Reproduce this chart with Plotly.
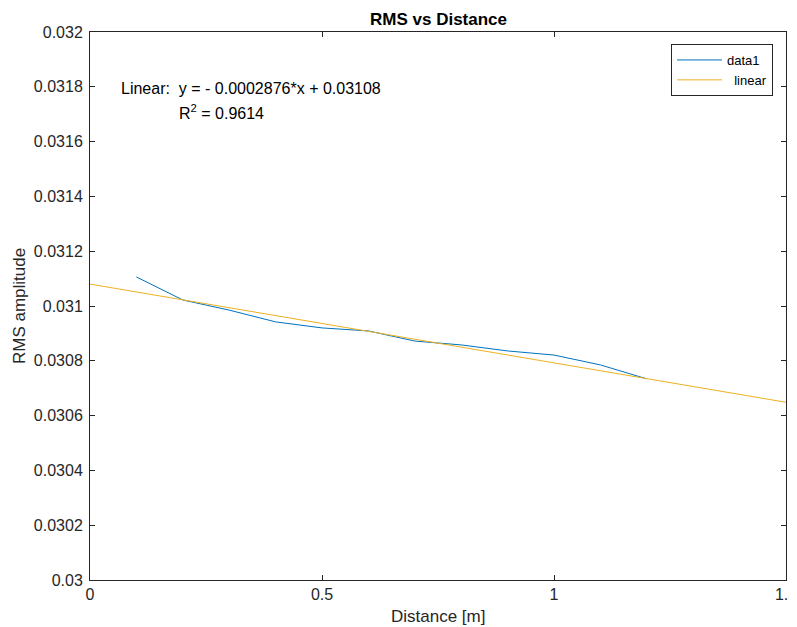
import plotly.graph_objects as go

distance = [0.1, 0.2, 0.3, 0.4, 0.5, 0.6, 0.7, 0.8, 0.9, 1.0, 1.1, 1.2]
rms = [0.031106, 0.031022, 0.030985, 0.030942, 0.030920, 0.030909,
       0.030872, 0.030858, 0.030836, 0.030821, 0.030785, 0.030734]

fit_slope = -0.0002876
fit_intercept = 0.03108
fit_x = [0.0, 1.5]
fit_y = [fit_slope * x + fit_intercept for x in fit_x]

x_ticks = [0, 0.5, 1, 1.5]
x_ticktext = ["0", "0.5", "1", "1.5"]
y_ticks = [0.030, 0.0302, 0.0304, 0.0306, 0.0308, 0.031, 0.0312, 0.0314, 0.0316, 0.0318, 0.032]
y_ticktext = ["0.03", "0.0302", "0.0304", "0.0306", "0.0308", "0.031",
              "0.0312", "0.0314", "0.0316", "0.0318", "0.032"]

FONT = "Liberation Sans, Arial, Helvetica, sans-serif"
AX = "#262626"

# page body has an 8px margin; figure sized so screen plot area is x 90-786, y 32-580
W, H = 797, 619
L, T = 82, 24
R = W - (786 - 8)
B = H - (580 - 8)
PW, PH = W - L - R, H - T - B


def px(sx):
    return (sx - 90) / PW


def py(sy):
    return (580 - sy) / PH


fig = go.Figure()
fig.add_trace(go.Scatter(x=distance, y=rms, mode="lines", name="data1",
                         line=dict(color="#0072BD", width=1)))
fig.add_trace(go.Scatter(x=fit_x, y=fit_y, mode="lines", name="  linear",
                         line=dict(color="#EDB120", width=1)))

axis_common = dict(showgrid=False, zeroline=False, showline=True, linecolor=AX,
                   linewidth=1, mirror="ticks", ticks="inside", ticklen=5,
                   tickcolor=AX, automargin=False, ticklabeloverflow="allow",
                   tickfont=dict(family=FONT, size=16, color=AX))

fig.update_layout(
    width=W, height=H,
    margin=dict(l=L, r=R, t=T, b=B, autoexpand=False),
    paper_bgcolor="white", plot_bgcolor="white",
    xaxis=dict(range=[0, 1.5], tickvals=x_ticks, ticktext=x_ticktext, **axis_common),
    yaxis=dict(range=[0.030, 0.032], tickvals=y_ticks, ticktext=y_ticktext,
               ticklabelstandoff=3, **axis_common),
    legend=dict(x=px(773), y=py(44), xanchor="right", yanchor="top",
                bgcolor="white", bordercolor=AX, borderwidth=1,
                font=dict(family=FONT, size=13, color="black"),
                itemwidth=45, tracegroupgap=0),
    showlegend=True,
)

# title
fig.add_annotation(xref="paper", yref="paper", x=0.5, y=py(19.5),
                   xanchor="center", yanchor="middle", showarrow=False,
                   text="<b>RMS vs Distance</b>", font=dict(family=FONT, size=17, color="black"))
# axis titles
fig.add_annotation(xref="paper", yref="paper", x=0.5, y=py(617),
                   xanchor="center", yanchor="middle", showarrow=False,
                   text="Distance [m]", font=dict(family=FONT, size=17, color=AX))
fig.add_annotation(xref="paper", yref="paper", x=px(19), y=0.5,
                   xanchor="center", yanchor="middle", showarrow=False, textangle=-90,
                   text="RMS amplitude", font=dict(family=FONT, size=17, color=AX))

fig.add_annotation(xref="paper", yref="paper", x=px(119), y=py(89),
                   xanchor="left", yanchor="middle", showarrow=False,
                   text="Linear:  y = - 0.0002876*x + 0.03108",
                   font=dict(family=FONT, size=16, color="black"))
fig.add_annotation(xref="paper", yref="paper", x=px(177), y=py(112),
                   xanchor="left", yanchor="middle", showarrow=False,
                   text="R<sup>2</sup> = 0.9614",
                   font=dict(family=FONT, size=16, color="black"))

fig.write_html("out.html")
